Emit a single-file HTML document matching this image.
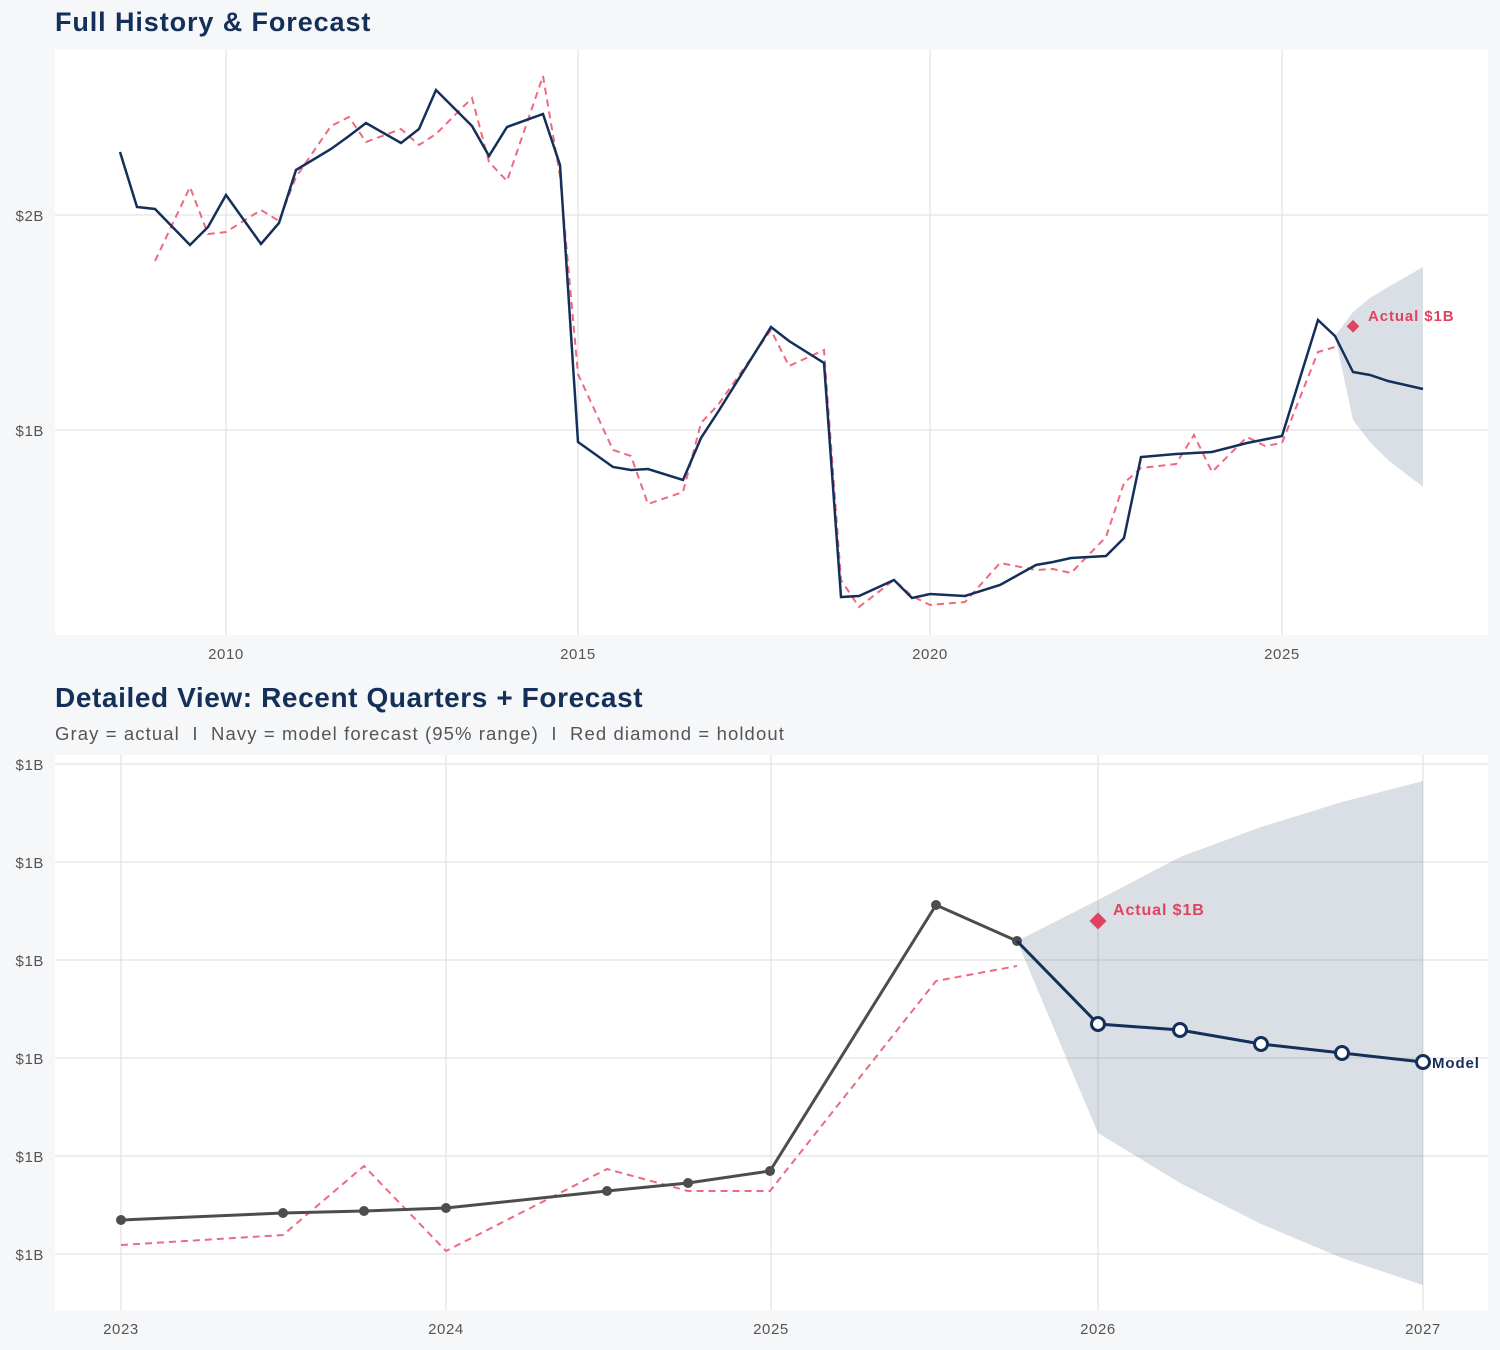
<!DOCTYPE html>
<html><head><meta charset="utf-8"><style>
html,body{margin:0;padding:0;background:#f6f7f9;}
svg{display:block;font-family:"Liberation Sans",sans-serif;}
</style></head><body>
<svg width="1500" height="1350" viewBox="0 0 1500 1350" xmlns="http://www.w3.org/2000/svg">
<rect width="1500" height="1350" fill="#f6f7f9"/>
<!-- Top chart -->
<text x="55" y="31" font-size="27" font-weight="bold" fill="#14305a" letter-spacing="0.9">Full History &amp; Forecast</text>
<rect x="55" y="50" width="1433" height="585" fill="#fff"/>
<g stroke="#dedede" stroke-width="1">
<line x1="226" y1="50" x2="226" y2="635"/><line x1="578" y1="50" x2="578" y2="635"/>
<line x1="930" y1="50" x2="930" y2="635"/><line x1="1282" y1="50" x2="1282" y2="635"/>
<line x1="55" y1="215" x2="1488" y2="215"/><line x1="55" y1="430" x2="1488" y2="430"/>
</g>
<g font-size="15" fill="#555" letter-spacing="0.6">
<text x="44" y="221" text-anchor="end">$2B</text><text x="44" y="436" text-anchor="end">$1B</text>
<text x="226" y="659" text-anchor="middle">2010</text><text x="578" y="659" text-anchor="middle">2015</text>
<text x="930" y="659" text-anchor="middle">2020</text><text x="1282" y="659" text-anchor="middle">2025</text>
</g>
<polygon points="1335,336 1353,312 1370,298 1388,287 1423,267 1423,487 1388,460 1370,442 1353,420" fill="#1a3560" fill-opacity="0.16"/>
<polyline fill="none" stroke="#ee6a80" stroke-width="2" stroke-dasharray="7,5" points="155,261 190,187 208,234 226,232 261,210 279,221 296,177 331,126 349,117 366,142 401,129 419,145 436,134 472,98 489,162 507,181 543,76 560,176 578,374 613,450 631,456 648,504 683,492 701,423 718,405 771,330 789,366 824,350 841,580 859,607 894,580 912,596 930,605 965,602 1000,563 1036,570 1053,569 1071,573 1106,537 1124,483 1141,468 1176,464 1194,435 1212,472 1247,437 1265,446 1282,443 1318,352 1335,347"/>
<polyline fill="none" stroke="#14305a" stroke-width="2.5" points="120,152 137,207 155,209 190,245 208,227 226,195 261,244 279,223 296,170 331,149 349,136 366,123 401,143 419,129 436,90 472,126 489,156 507,127 543,114 560,165 578,442 613,467 631,470 648,469 683,480 701,438 718,412 771,327 789,341 824,363 841,597 859,596 894,580 912,598 930,594 965,596 1000,585 1036,565 1053,562 1071,558 1106,556 1124,538 1141,457 1176,454 1212,452 1247,443 1282,436 1318,320 1335,336 1353,372 1370,375 1388,381 1423,389"/>
<rect x="1348" y="322" width="9" height="9" fill="#e0435f" transform="rotate(45 1353 327)"/>
<text x="1368" y="321" font-size="15" font-weight="bold" fill="#e0435f" letter-spacing="0.9">Actual $1B</text>

<!-- Bottom chart -->
<text x="55" y="707" font-size="28" font-weight="bold" fill="#14305a" letter-spacing="0.6">Detailed View: Recent Quarters + Forecast</text>
<text x="55" y="740" font-size="18.5" fill="#555" letter-spacing="1.1" xml:space="preserve">Gray = actual  I  Navy = model forecast (95% range)  I  Red diamond = holdout</text>
<rect x="55" y="755" width="1433" height="555" fill="#fff"/>
<g stroke="#dedede" stroke-width="1">
<line x1="121" y1="755" x2="121" y2="1310"/><line x1="446" y1="755" x2="446" y2="1310"/>
<line x1="771" y1="755" x2="771" y2="1310"/><line x1="1098" y1="755" x2="1098" y2="1310"/>
<line x1="1423" y1="755" x2="1423" y2="1310"/>
<line x1="55" y1="764" x2="1488" y2="764"/><line x1="55" y1="862" x2="1488" y2="862"/>
<line x1="55" y1="960" x2="1488" y2="960"/><line x1="55" y1="1058" x2="1488" y2="1058"/>
<line x1="55" y1="1156" x2="1488" y2="1156"/><line x1="55" y1="1254" x2="1488" y2="1254"/>
</g>
<g font-size="15" fill="#555" letter-spacing="0.6">
<text x="44" y="770" text-anchor="end">$1B</text><text x="44" y="868" text-anchor="end">$1B</text>
<text x="44" y="966" text-anchor="end">$1B</text><text x="44" y="1064" text-anchor="end">$1B</text>
<text x="44" y="1162" text-anchor="end">$1B</text><text x="44" y="1260" text-anchor="end">$1B</text>
<text x="121" y="1334" text-anchor="middle">2023</text><text x="446" y="1334" text-anchor="middle">2024</text>
<text x="771" y="1334" text-anchor="middle">2025</text><text x="1098" y="1334" text-anchor="middle">2026</text>
<text x="1423" y="1334" text-anchor="middle">2027</text>
</g>
<polygon points="1017,941 1098,900 1180,857 1261,827 1342,802 1423,781 1423,1285 1342,1258 1261,1224 1180,1183 1098,1133" fill="#1a3560" fill-opacity="0.16"/>
<polyline fill="none" stroke="#ee6a80" stroke-width="2" stroke-dasharray="7,5" points="121,1245 283,1235 364,1166 446,1251 607,1169 688,1191 770,1191 936,981 1017,966"/>
<polyline fill="none" stroke="#4d4d4d" stroke-width="3" points="121,1220 283,1213 364,1211 446,1208 607,1191 688,1183 770,1171 936,905 1017,941"/>
<g fill="#4d4d4d">
<circle cx="121" cy="1220" r="5"/><circle cx="283" cy="1213" r="5"/><circle cx="364" cy="1211" r="5"/>
<circle cx="446" cy="1208" r="5"/><circle cx="607" cy="1191" r="5"/><circle cx="688" cy="1183" r="5"/>
<circle cx="770" cy="1171" r="5"/><circle cx="936" cy="905" r="5"/><circle cx="1017" cy="941" r="5"/>
</g>
<polyline fill="none" stroke="#14305a" stroke-width="3" points="1017,941 1098,1024 1180,1030 1261,1044 1342,1053 1423,1062"/>
<g fill="#fff" stroke="#14305a" stroke-width="3">
<circle cx="1098" cy="1024" r="6.5"/><circle cx="1180" cy="1030" r="6.5"/><circle cx="1261" cy="1044" r="6.5"/>
<circle cx="1342" cy="1053" r="6.5"/><circle cx="1423" cy="1062" r="6.5"/>
</g>
<rect x="1092" y="915" width="12" height="12" fill="#e0435f" transform="rotate(45 1098 921)"/>
<text x="1113" y="915" font-size="16" font-weight="bold" fill="#e0435f" letter-spacing="0.9">Actual $1B</text>
<text x="1432" y="1068" font-size="15" font-weight="bold" fill="#14305a" letter-spacing="0.9">Model</text>
</svg>
</body></html>
